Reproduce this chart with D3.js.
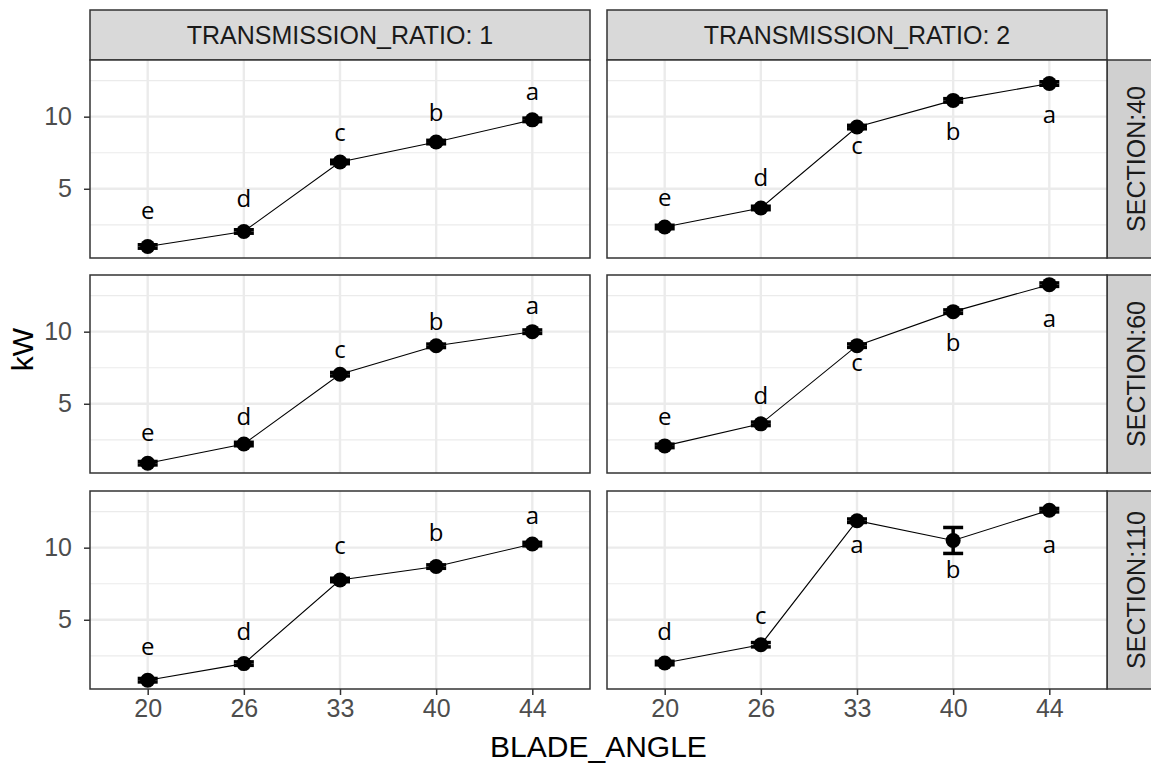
<!DOCTYPE html>
<html>
<head>
<meta charset="utf-8">
<script src="https://cdn.jsdelivr.net/npm/d3@7"></script>
<style>
  body { margin: 0; background: #fff; }
  svg { display: block; }
</style>
</head>
<body>
<div id="chart"></div>
<script>
// facets and categories
const bladeAngles = ["20", "26", "33", "40", "44"];
const ratios = ["1", "2"];
const sections = ["40", "60", "110"];

// mean kW per blade angle
const kw_s40_r1 = [1.0, 2.04, 6.86, 8.24, 9.78];
const kw_s40_r2 = [2.35, 3.67, 9.28, 11.13, 12.3];
const kw_s60_r1 = [0.88, 2.21, 7.05, 9.02, 10.0];
const kw_s60_r2 = [2.08, 3.61, 9.03, 11.39, 13.26];
const kw_s110_r1 = [0.81, 1.96, 7.76, 8.69, 10.25];
const kw_s110_r2 = [2.0, 3.27, 11.87, 10.5, 12.6];

// standard deviations (errorbars)
const sd_s40_r1 = [0.12, 0.12, 0.12, 0.12, 0.12];
const sd_s40_r2 = [0.12, 0.12, 0.12, 0.12, 0.12];
const sd_s60_r1 = [0.12, 0.12, 0.12, 0.12, 0.12];
const sd_s60_r2 = [0.12, 0.12, 0.12, 0.12, 0.12];
const sd_s110_r1 = [0.12, 0.12, 0.12, 0.12, 0.12];
const sd_s110_r2 = [0.12, 0.15, 0.12, 0.9, 0.12];

// significance letters and where they sit (kW)
const let_s40_r1 = ["e", "d", "c", "b", "a"];
const let_s40_r2 = ["e", "d", "c", "b", "a"];
const let_s60_r1 = ["e", "d", "c", "b", "a"];
const let_s60_r2 = ["e", "d", "c", "b", "a"];
const let_s110_r1 = ["e", "d", "c", "b", "a"];
const let_s110_r2 = ["d", "c", "a", "b", "a"];

const lab_s40_r1 = [2.89, 3.74, 8.33, 9.70, 11.19];
const lab_s40_r2 = [3.81, 5.21, 7.43, 8.36, 9.53];
const lab_s60_r1 = [2.40, 3.56, 8.14, 10.12, 11.23];
const lab_s60_r2 = [3.54, 5.0, 7.29, 8.68, 10.35];
const lab_s110_r1 = [2.53, 3.61, 9.56, 10.48, 11.64];
const lab_s110_r2 = [3.62, 4.72, 9.61, 7.9, 9.61];

const yTicks = [5, 10];
const yMinor = [2.5, 7.5, 12.5];

const panels = {
  "40|1": [kw_s40_r1, sd_s40_r1, let_s40_r1, lab_s40_r1],
  "40|2": [kw_s40_r2, sd_s40_r2, let_s40_r2, lab_s40_r2],
  "60|1": [kw_s60_r1, sd_s60_r1, let_s60_r1, lab_s60_r1],
  "60|2": [kw_s60_r2, sd_s60_r2, let_s60_r2, lab_s60_r2],
  "110|1": [kw_s110_r1, sd_s110_r1, let_s110_r1, lab_s110_r1],
  "110|2": [kw_s110_r2, sd_s110_r2, let_s110_r2, lab_s110_r2]
};

const W = 1151, H = 767;
const colX = [90, 607];
const panelW = 500;
const rowY = [60, 275, 491];
const panelH = 198;
const stripTop = 10;
const stripW = 60;
const font = "'Liberation Sans', Arial, sans-serif";

const svg = d3.select("#chart").append("svg")
  .attr("width", W)
  .attr("height", H)
  .attr("viewBox", [0, 0, W, H]);

const yDomain = [0.2, 13.93];

// top strips
ratios.forEach((r, ci) => {
  const g = svg.append("g");
  g.append("rect")
    .attr("x", colX[ci]).attr("y", stripTop)
    .attr("width", panelW).attr("height", rowY[0] - stripTop)
    .style("fill", "#d9d9d9").style("stroke", "#333").style("stroke-width", 1.5);
  g.append("text")
    .attr("x", colX[ci] + panelW / 2).attr("y", (stripTop + rowY[0]) / 2)
    .attr("dy", "0.36em")
    .style("text-anchor", "middle")
    .style("font-family", font).style("font-size", "25px").style("fill", "#1a1a1a")
    .text("TRANSMISSION_RATIO: " + r);
});

sections.forEach((s, ri) => {
  const y0 = rowY[ri];
  const y = d3.scaleLinear().domain(yDomain).range([y0 + panelH, y0]);

  // right strip
  const sx = colX[1] + panelW;
  svg.append("rect")
    .attr("x", sx).attr("y", y0)
    .attr("width", stripW).attr("height", panelH)
    .style("fill", "#d0d0d0").style("stroke", "#333").style("stroke-width", 1.5);
  svg.append("text")
    .attr("transform", `translate(${sx + 29},${y0 + panelH / 2}) rotate(-90)`)
    .attr("dy", "0.36em")
    .style("text-anchor", "middle")
    .style("font-family", font).style("font-size", "25px").style("fill", "#1a1a1a")
    .text("SECTION:" + s);

  ratios.forEach((r, ci) => {
    const x = d3.scalePoint().domain(bladeAngles)
      .range([colX[ci], colX[ci] + panelW]).padding(0.6);
    const [kw, sd, letters, labY] = panels[s + "|" + r];
    const rows = bladeAngles.map((a, i) => ({ a, kw: kw[i], sd: sd[i], letter: letters[i], ly: labY[i] }));

    const g = svg.append("g");
    g.append("rect")
      .attr("x", colX[ci]).attr("y", y0).attr("width", panelW).attr("height", panelH)
      .style("fill", "#fff");

    g.selectAll(".minor").data(yMinor).enter().append("line")
      .attr("x1", colX[ci]).attr("x2", colX[ci] + panelW)
      .attr("y1", d => y(d)).attr("y2", d => y(d))
      .style("stroke", "#ebebeb").style("stroke-width", 1.2);
    g.selectAll(".major").data(yTicks).enter().append("line")
      .attr("x1", colX[ci]).attr("x2", colX[ci] + panelW)
      .attr("y1", d => y(d)).attr("y2", d => y(d))
      .style("stroke", "#ebebeb").style("stroke-width", 2.4);
    g.selectAll(".vgrid").data(bladeAngles).enter().append("line")
      .attr("x1", d => x(d)).attr("x2", d => x(d))
      .attr("y1", y0).attr("y2", y0 + panelH)
      .style("stroke", "#ebebeb").style("stroke-width", 2.4);

    g.append("path")
      .datum(rows)
      .attr("d", d3.line().x(d => x(d.a)).y(d => y(d.kw)))
      .style("fill", "none").style("stroke", "#000").style("stroke-width", 1.1);

    const pts = g.selectAll(".pt").data(rows).enter().append("g");
    pts.append("line")
      .attr("x1", d => x(d.a)).attr("x2", d => x(d.a))
      .attr("y1", d => y(d.kw - d.sd)).attr("y2", d => y(d.kw + d.sd))
      .style("stroke", "#000").style("stroke-width", 3.5);
    pts.append("line")
      .attr("x1", d => x(d.a) - 10).attr("x2", d => x(d.a) + 10)
      .attr("y1", d => y(d.kw - d.sd)).attr("y2", d => y(d.kw - d.sd))
      .style("stroke", "#000").style("stroke-width", 3.5);
    pts.append("line")
      .attr("x1", d => x(d.a) - 10).attr("x2", d => x(d.a) + 10)
      .attr("y1", d => y(d.kw + d.sd)).attr("y2", d => y(d.kw + d.sd))
      .style("stroke", "#000").style("stroke-width", 3.5);
    pts.append("circle")
      .attr("cx", d => x(d.a)).attr("cy", d => y(d.kw))
      .attr("r", 7.5)
      .style("fill", "#000");

    g.selectAll(".lab").data(rows).enter().append("text")
      .attr("x", d => x(d.a)).attr("y", d => y(d.ly))
      .style("text-anchor", "middle")
      .style("font-family", "'Open Sans', sans-serif").style("font-size", "24px").style("fill", "#000")
      .text(d => d.letter);

    g.append("rect")
      .attr("x", colX[ci]).attr("y", y0).attr("width", panelW).attr("height", panelH)
      .style("fill", "none").style("stroke", "#333").style("stroke-width", 1.5);

    if (ci === 0) {
      const ax = svg.append("g")
        .attr("transform", `translate(${colX[0]},0)`)
        .call(d3.axisLeft(y).tickValues(yTicks).tickSize(6).tickPadding(12));
      ax.select(".domain").remove();
      ax.selectAll("line").style("stroke", "#333").style("stroke-width", 1.5);
      ax.selectAll("text").style("font-family", font).style("font-size", "25px").style("fill", "#4d4d4d");
    }
    if (ri === sections.length - 1) {
      const ax = svg.append("g")
        .attr("transform", `translate(0,${y0 + panelH})`)
        .call(d3.axisBottom(x).tickSize(6).tickPadding(4));
      ax.select(".domain").remove();
      ax.selectAll("line").style("stroke", "#333").style("stroke-width", 1.5);
      ax.selectAll("text").style("font-family", font).style("font-size", "25px").style("fill", "#4d4d4d");
    }
  });
});

// axis titles
svg.append("text")
  .attr("x", (colX[0] + colX[1] + panelW) / 2).attr("y", 757)
  .style("text-anchor", "middle")
  .style("font-family", font).style("font-size", "30px").style("fill", "#000")
  .text("BLADE_ANGLE");

svg.append("text")
  .attr("transform", `translate(33,${(stripTop + rowY[2] + panelH) / 2}) rotate(-90)`)
  .style("text-anchor", "middle")
  .style("font-family", font).style("font-size", "30px").style("fill", "#000")
  .text("kW");
</script>
</body>
</html>
